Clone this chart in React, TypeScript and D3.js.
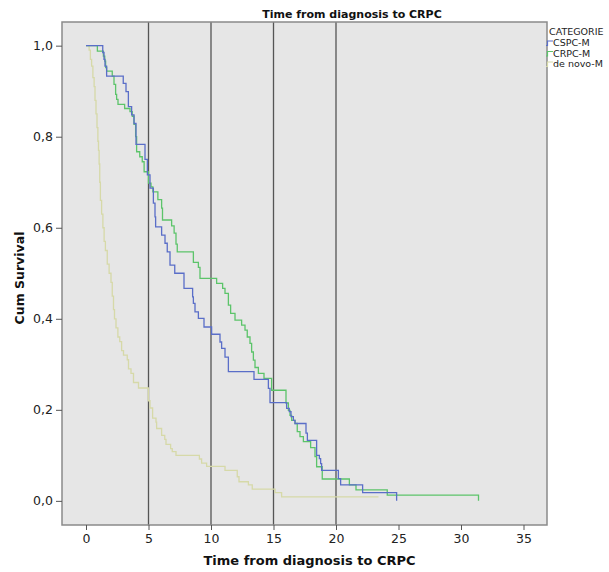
import React, { useEffect, useRef } from "react";
import * as d3 from "d3";

const WIDTH = 609;
const HEIGHT = 572;
const PLOT = { left: 62, right: 547, top: 22, bottom: 525 };
const X_DOMAIN = [-1.92, 36.88];
const Y_DOMAIN = [-0.053, 1.052];
const X_TICKS = [0, 5, 10, 15, 20, 25, 30, 35];
const Y_TICKS = [0, 0.2, 0.4, 0.6, 0.8, 1.0];
const REF_LINES = [5, 10, 15, 20];
const CATEGORIES = ["CSPC-M", "CRPC-M", "de novo-M"];
const COLORS = ["#5a6ec8", "#5cc46a", "#d6d9a8"];

// [time, cumulative survival] steps
const CSPC_M = [
  [0, 1], [1.34, 0.985], [1.44, 0.97], [1.52, 0.955], [1.65, 0.933], [2.98, 0.917],
  [3.2, 0.899], [3.39, 0.866], [3.65, 0.848], [3.84, 0.829], [4.0, 0.783], [4.72, 0.75],
  [4.91, 0.716], [5.12, 0.687], [5.39, 0.654], [5.52, 0.624], [5.57, 0.602], [6.05, 0.584],
  [6.32, 0.566], [6.5, 0.547], [6.72, 0.518], [7.1, 0.5], [7.84, 0.467], [8.53, 0.448],
  [8.59, 0.434], [8.72, 0.415], [8.99, 0.401], [9.44, 0.382], [10.05, 0.366], [10.72, 0.349],
  [10.85, 0.335], [11.12, 0.316], [11.39, 0.284], [13.44, 0.267], [14.59, 0.247], [14.72, 0.216],
  [16.05, 0.203], [16.26, 0.196], [16.4, 0.185], [16.59, 0.177], [16.72, 0.17], [17.6, 0.149],
  [17.71, 0.133], [18.45, 0.1], [18.67, 0.093], [18.77, 0.082], [18.85, 0.067], [20.19, 0.049],
  [20.37, 0.035], [22.13, 0.018], [24.85, 0],
];
const CRPC_M = [
  [0, 1], [0.91, 0.988], [1.39, 0.977], [1.5, 0.966], [1.57, 0.952], [1.65, 0.944],
  [2.1, 0.933], [2.24, 0.915], [2.37, 0.893], [2.45, 0.882], [2.56, 0.871], [3.09, 0.862],
  [3.52, 0.855], [3.7, 0.845], [3.84, 0.827], [3.97, 0.8], [4.05, 0.767], [4.3, 0.756],
  [4.5, 0.745], [4.65, 0.723], [5.0, 0.698], [5.2, 0.69], [5.35, 0.679], [5.75, 0.662],
  [6.05, 0.643], [6.12, 0.617], [6.85, 0.604], [7.05, 0.588], [7.2, 0.564], [7.3, 0.547],
  [8.59, 0.524], [8.99, 0.513], [9.12, 0.489], [10.45, 0.478], [10.93, 0.467], [11.12, 0.456],
  [11.39, 0.43], [11.57, 0.412], [11.92, 0.397], [12.45, 0.386], [12.72, 0.375], [12.9, 0.36],
  [13.12, 0.346], [13.25, 0.327], [13.39, 0.309], [13.52, 0.293], [13.79, 0.28], [14.24, 0.269],
  [14.85, 0.243], [16.0, 0.215], [16.19, 0.199], [16.32, 0.188], [16.45, 0.177], [16.72, 0.17],
  [16.9, 0.152], [17.12, 0.141], [17.39, 0.13], [17.97, 0.117], [18.32, 0.097], [18.45, 0.075],
  [18.9, 0.048], [21.07, 0.035], [21.6, 0.024], [24.1, 0.0125], [31.4, 0],
];
const DE_NOVO_M = [
  [0, 1], [0.25, 0.99], [0.35, 0.97], [0.45, 0.955], [0.55, 0.93], [0.65, 0.91],
  [0.72, 0.88], [0.8, 0.85], [0.88, 0.82], [0.95, 0.79], [1.0, 0.77], [1.05, 0.74],
  [1.1, 0.7], [1.15, 0.66], [1.25, 0.63], [1.35, 0.6], [1.45, 0.57], [1.55, 0.55],
  [1.7, 0.52], [1.85, 0.5], [2.0, 0.48], [2.1, 0.45], [2.2, 0.42], [2.28, 0.4],
  [2.4, 0.38], [2.55, 0.36], [2.7, 0.35], [2.85, 0.33], [3.0, 0.32], [3.3, 0.31],
  [3.4, 0.29], [3.6, 0.28], [3.8, 0.26], [4.2, 0.248], [4.99, 0.22], [5.12, 0.204],
  [5.33, 0.182], [5.6, 0.173], [5.65, 0.159], [6.05, 0.144], [6.3, 0.135], [6.4, 0.124],
  [6.77, 0.115], [6.9, 0.108], [7.2, 0.1], [9.07, 0.092], [9.25, 0.083], [9.65, 0.076],
  [11.12, 0.067], [12.1, 0.053], [12.24, 0.042], [12.99, 0.035], [13.3, 0.026], [15.12, 0.018],
  [15.65, 0.009], [23.4, 0.009],
];
const SERIES = [CSPC_M, CRPC_M, DE_NOVO_M];

const FONT = "'DejaVu Sans', sans-serif";

export default function App() {
  const ref = useRef<SVGSVGElement>(null);

  useEffect(() => {
    const svg = d3.select(ref.current);
    svg.selectAll("*").remove();

    const x = d3.scaleLinear().domain(X_DOMAIN).range([PLOT.left, PLOT.right]);
    const y = d3.scaleLinear().domain(Y_DOMAIN).range([PLOT.bottom, PLOT.top]);

    // plot background
    svg
      .append("rect")
      .attr("x", PLOT.left)
      .attr("y", PLOT.top)
      .attr("width", PLOT.right - PLOT.left)
      .attr("height", PLOT.bottom - PLOT.top)
      .attr("fill", "#e6e6e6");

    // reference lines
    svg
      .append("g")
      .selectAll("line")
      .data(REF_LINES)
      .join("line")
      .attr("x1", (d) => x(d))
      .attr("x2", (d) => x(d))
      .attr("y1", PLOT.top)
      .attr("y2", PLOT.bottom)
      .attr("stroke", "#555")
      .attr("stroke-width", 1.3);

    // survival curves
    const line = d3
      .line<number[]>()
      .x((d) => x(d[0]))
      .y((d) => y(d[1]))
      .curve(d3.curveStepAfter);
    // draw de novo first so the others sit on top
    [2, 1, 0].forEach((i) => {
      svg
        .append("path")
        .attr("d", line(SERIES[i]))
        .attr("fill", "none")
        .attr("stroke", COLORS[i])
        .attr("stroke-width", 1.3);
    });

    // frame
    svg
      .append("rect")
      .attr("x", PLOT.left)
      .attr("y", PLOT.top)
      .attr("width", PLOT.right - PLOT.left)
      .attr("height", PLOT.bottom - PLOT.top)
      .attr("fill", "none")
      .attr("stroke", "#8a8a8a")
      .attr("stroke-width", 1.5);

    // axes
    const xAxis = d3
      .axisBottom(x)
      .tickValues(X_TICKS)
      .tickSize(5)
      .tickPadding(4)
      .tickFormat((d) => String(d));
    const gx = svg
      .append("g")
      .attr("transform", "translate(0," + PLOT.bottom + ")")
      .call(xAxis);
    const yAxis = d3
      .axisLeft(y)
      .tickValues(Y_TICKS)
      .tickSize(6)
      .tickPadding(3)
      .tickFormat((d) => d3.format(".1f")(d as number).replace(".", ","));
    const gy = svg
      .append("g")
      .attr("transform", "translate(" + PLOT.left + ",0)")
      .call(yAxis);
    [gx, gy].forEach((g) => {
      g.select(".domain").remove();
      g.selectAll(".tick line").attr("stroke", "#555");
      g.selectAll(".tick text")
        .attr("fill", "#222")
        .attr("font-family", FONT)
        .attr("font-size", 12.5);
    });

    // titles
    svg
      .append("text")
      .attr("x", 352)
      .attr("y", 18)
      .attr("text-anchor", "middle")
      .attr("font-family", FONT)
      .attr("font-weight", "bold")
      .attr("font-size", 11)
      .attr("fill", "#111")
      .text("Time from diagnosis to CRPC");
    svg
      .append("text")
      .attr("x", (PLOT.left + PLOT.right) / 2 + 5)
      .attr("y", 565)
      .attr("text-anchor", "middle")
      .attr("font-family", FONT)
      .attr("font-weight", "bold")
      .attr("font-size", 13)
      .attr("fill", "#111")
      .text("Time from diagnosis to CRPC");
    svg
      .append("text")
      .attr("transform", "translate(24,278) rotate(-90)")
      .attr("text-anchor", "middle")
      .attr("font-family", FONT)
      .attr("font-weight", "bold")
      .attr("font-size", 12.5)
      .attr("fill", "#111")
      .text("Cum Survival");

    // legend
    const legend = svg.append("g").attr("transform", "translate(546,0)");
    legend
      .append("text")
      .attr("x", 3)
      .attr("y", 35)
      .attr("font-family", FONT)
      .attr("font-size", 9.5)
      .attr("fill", "#222")
      .text("CATEGORIE");
    CATEGORIES.forEach((c, i) => {
      const yy = 46 + i * 10.5;
      legend
        .append("path")
        .attr("d", `M0,${yy - 0.5}H1.5V${yy - 5}H7`)
        .attr("fill", "none")
        .attr("stroke", COLORS[i])
        .attr("stroke-width", 1.2);
      legend
        .append("text")
        .attr("x", 7)
        .attr("y", yy)
        .attr("font-family", FONT)
        .attr("font-size", 9.5)
        .attr("fill", "#222")
        .text(c);
    });
  }, []);

  return (
    <div style={{ position: "absolute", left: 0, top: 0 }}>
      <svg ref={ref} width={WIDTH} height={HEIGHT} style={{ display: "block", background: "#fff" }} />
    </div>
  );
}
